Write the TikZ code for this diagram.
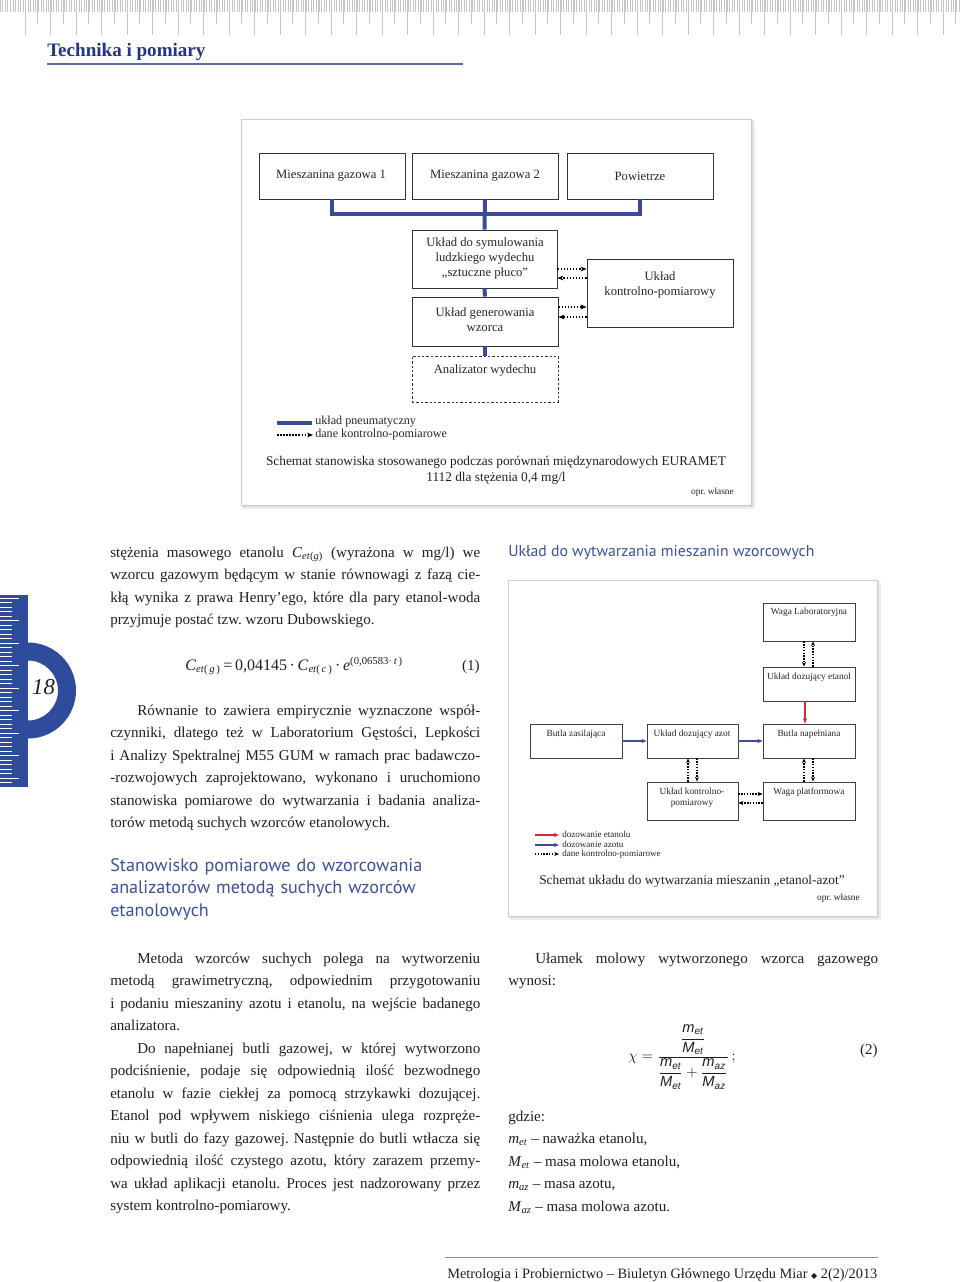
\documentclass[tikz,border=0pt]{standalone}
\usepackage{amsmath}
\usepackage{fontspec}
\setmainfont{Liberation Serif}
\newfontfamily\headsans{PT Sans}
\newfontfamily\eqsans{Liberation Sans}
\newfontfamily\djv{DejaVu Sans}
\usetikzlibrary{arrows.meta,fit}
\frenchspacing
\definecolor{navy}{HTML}{233584}
\definecolor{hdrule}{HTML}{5D6BA3}
\definecolor{tabblue}{HTML}{2F4B9C}
\definecolor{headblue}{HTML}{3D4F9F}
\definecolor{pneublue}{HTML}{3A4A98}
\definecolor{f2blue}{HTML}{3B4F9A}
\definecolor{f2red}{HTML}{D42A34}
\definecolor{textc}{HTML}{231F20}
\definecolor{tickc}{HTML}{C4C4C4}
\newlength\linewd \setlength\linewd{277.5pt}
\newlength\indw \setlength\indw{20.25pt}
\newcommand\jl[1]{\makebox[\linewd][s]{\spaceskip=0pt\xspaceskip=0pt #1}}
\newcommand\jli[1]{\hspace*{\indw}\makebox[\dimexpr\linewd-\indw\relax][s]{\spaceskip=0pt\xspaceskip=0pt #1}}
\newcommand\ms[2]{\mbox{\eqsans\itshape #1}_{\mbox{\eqsans\itshape\fontsize{7.5}{8}\selectfont #2}}}
\tikzset{
  body/.style={anchor=base west, inner sep=0pt, text width=277.5pt, align=justify, text=textc, font=\fontsize{11.3}{16.875}\selectfont},
  headsty/.style={anchor=base west, inner sep=0pt, text width=300pt, align=left, text=headblue, font=\headsans\fontsize{13.6}{16.875}\selectfont},
  f1box/.style={draw=black!80, line width=0.7pt, fill=white, inner sep=0pt},
  f1text/.style={inner sep=0pt, align=center, text=black!85, font=\fontsize{9.5}{11.25}\selectfont},
  f2box/.style={draw=black!75, line width=0.6pt, fill=white, inner sep=0pt},
  f2text/.style={inner sep=0pt, align=center, text=black!85, font=\fontsize{7}{8.25}\selectfont},
  pneu/.style={pneublue, line width=3pt},
  dat/.style={black, line width=1pt, dash pattern=on 1.2pt off 1.1pt, -{Stealth[length=4.5pt,width=3.6pt]}},
  dattwo/.style={black, line width=0.9pt, dash pattern=on 1.1pt off 1pt, -{Stealth[length=3.6pt,width=3pt]}},
  bluearr/.style={f2blue, line width=1pt, -{Stealth[length=4pt,width=3.2pt]}},
  redarr/.style={f2red, line width=1pt, -{Stealth[length=4pt,width=3.2pt]}},
  capt/.style={inner sep=0pt, text=textc, font=\fontsize{10}{12}\selectfont},
  oprsty/.style={inner sep=0pt, anchor=base east, text=textc, font=\fontsize{7}{8}\selectfont},
}
\begin{document}
\begin{tikzpicture}[x=0.75pt,y=-0.75pt]
\useasboundingbox (0,0) rectangle (960,1282);
\fill[white] (0,0) rectangle (960,1282);

% top ruler
\draw[tickc, line width=0.35pt] \foreach \i in {0,...,376} {(\i*2.55,0) -- ++(0,12)};
\draw[tickc, line width=0.45pt] \foreach \i in {0,...,36} {(25+\i*25.5,0) -- ++(0,35)};
\draw[tickc, line width=0.4pt] \foreach \i in {0,...,36} {(37.75+\i*25.5,0) -- ++(0,24)};

% header
\node[anchor=base west, inner sep=0pt, text=navy, font=\fontsize{14.3}{16}\selectfont\bfseries] (hdr) at (47,56) {Technika i pomiary};
\coordinate (hrA) at (47,64);
\coordinate (hrB) at (463,64);
\draw[hdrule, line width=1.5pt] (hrA) -- (hrB);

% page tab
\fill[tabblue] (0,595) rectangle (28,787);
\draw[white, line width=0.5pt] \foreach \j in {0,...,41} {(0,598+\j*4.5) -- ++(12,0)};
\draw[white, line width=0.5pt] \foreach \j in {0,...,8} {(0,598+\j*22.5) -- ++(19,0)};
\begin{scope}
  \clip (28,630) rectangle (95,760);
  \fill[tabblue, even odd rule] (28,690.5) circle[radius=36pt] (28,690.5) circle[radius=22.5pt];
\end{scope}
\node[inner sep=0pt, text=textc, font=\fontsize{17}{20}\selectfont\itshape] (pgnum) at (43.5,687) {18};

% ===== Figure 1 =====
\fill[black!7] (243,121) rectangle (755,509);
\fill[black!14] (242,120) rectangle (753,507);
\draw[black!20, fill=white, line width=0.5pt] (241,119) rectangle (751,505);

\node[f1box, fit={(259,153)(405,199)}] (g1) {};
\node[f1text] (g1t) at (331,176) {Mieszanina gazowa 1};
\node[f1box, fit={(412,153)(558,199)}] (g2) {};
\node[f1text] (g2t) at (485,176) {Mieszanina gazowa 2};
\node[f1box, fit={(567,153)(713,199)}] (g3) {};
\node[f1text] (g3t) at (640,176) {Powietrze};
\node[f1box, fit={(412,230)(557,288)}] (sym) {};
\node[f1text] (symt) at (485,258) {Układ do symulowania\\ludzkiego wydechu\\„sztuczne płuco”};
\node[f1box, fit={(412,297)(558,346)}] (gen) {};
\node[f1text] (gent) at (485,319.5) {Układ generowania\\wzorca};
\node[f1box, dash pattern=on 1.8pt off 1.5pt, fit={(412,356)(558,402)}] (ana) {};
\node[f1text] (anat) at (485,370) {Analizator wydechu};
\node[f1box, fit={(587,259)(733,327)}] (kon) {};
\node[f1text] (kont) at (660,285) {Układ\\kontrolno-pomiarowy};

\coordinate (bus) at (485,214);
\draw[pneu, line join=miter] (g1.south) |- (bus) -| (g3.south);
\draw[pneu] (g2.south) -- (sym.north);
\draw[pneu] (sym.south) -- (gen.north);
\draw[pneu] (gen.south) -- (ana.north);

\draw[dat] (sym.east |- 0,269) -- (kon.west |- 0,269);
\draw[dat] (kon.west |- 0,278) -- (sym.east |- 0,278);
\draw[dat] (gen.east |- 0,307) -- (kon.west |- 0,307);
\draw[dat] (kon.west |- 0,317) -- (gen.east |- 0,317);

% legend 1
\draw[pneublue, line width=3pt] (277,423) -- (312,423);
\draw[dat] (277,435) -- (313,435);
\node[anchor=west, inner sep=0pt, text=black!85, font=\fontsize{9.1}{11}\selectfont] (lg1) at (315,421.5) {układ pneumatyczny};
\node[anchor=west, inner sep=0pt, text=black!85, font=\fontsize{9.1}{11}\selectfont] (lg2) at (315,434.5) {dane kontrolno-pomiarowe};

\node[capt, anchor=base] (cap1a) at (496,465) {Schemat stanowiska stosowanego podczas porównań międzynarodowych EURAMET};
\node[capt, anchor=base] (cap1b) at (496,481) {1112 dla stężenia 0,4 mg/l};
\node[oprsty] (opr1) at (734,494) {opr. własne};

% ===== Figure 2 =====
\fill[black!7] (510,582) rectangle (881,920);
\fill[black!14] (509,581) rectangle (879,918);
\draw[black!20, fill=white, line width=0.5pt] (508,580) rectangle (877,916);

\node[f2box, fit={(763,603)(855,641)}] (wl) {};
\node[f2text] (wlt) at (809,612.5) {Waga Laboratoryjna};
\node[f2box, fit={(763,667)(855,701)}] (et) {};
\node[f2text] (ett) at (809,677) {Układ dozujący etanol};
\node[f2box, fit={(530,724)(622,758)}] (bz) {};
\node[f2text] (bzt) at (576,734) {Butla zasilająca};
\node[f2box, fit={(647,724)(738,758)}] (az) {};
\node[f2text] (azt) at (692,734) {Układ dozujący azot};
\node[f2box, fit={(763,724)(855,758)}] (bn) {};
\node[f2text] (bnt) at (809,734) {Butla napełniana};
\node[f2box, fit={(647,782)(738,820)}] (kp) {};
\node[f2text] (kpt) at (692,798) {Układ kontrolno-\\pomiarowy};
\node[f2box, fit={(763,782)(855,820)}] (wp) {};
\node[f2text] (wpt) at (809,792.5) {Waga platformowa};

\draw[bluearr] (bz.east |- 0,741) -- (az.west |- 0,741);
\draw[bluearr] (az.east |- 0,741) -- (bn.west |- 0,741);
\draw[redarr] (et.south -| 805,0) -- (bn.north -| 805,0);
\draw[dattwo] (wl.south -| 804,0) -- (et.north -| 804,0);
\draw[dattwo] (et.north -| 813,0) -- (wl.south -| 813,0);
\draw[dattwo] (kp.north -| 688,0) -- (az.south -| 688,0);
\draw[dattwo] (az.south -| 697,0) -- (kp.north -| 697,0);
\draw[dattwo] (wp.north -| 804,0) -- (bn.south -| 804,0);
\draw[dattwo] (bn.south -| 813,0) -- (wp.north -| 813,0);
\draw[dattwo] (kp.east |- 0,794) -- (wp.west |- 0,794);
\draw[dattwo] (wp.west |- 0,803) -- (kp.east |- 0,803);

% legend 2
\draw[redarr] (535,835) -- (559,835);
\draw[bluearr] (535,845) -- (559,845);
\draw[dattwo] (535,854) -- (559,854);
\node[anchor=west, inner sep=0pt, text=black!85, font=\fontsize{6.8}{8}\selectfont] (l2a) at (562,834.5) {dozowanie etanolu};
\node[anchor=west, inner sep=0pt, text=black!85, font=\fontsize{6.8}{8}\selectfont] (l2b) at (562,844.5) {dozowanie azotu};
\node[anchor=west, inner sep=0pt, text=black!85, font=\fontsize{6.8}{8}\selectfont] (l2c) at (562,854) {dane kontrolno-pomiarowe};

\node[capt, anchor=base] (cap2) at (692,884) {Schemat układu do wytwarzania mieszanin „etanol-azot”};
\node[oprsty] (opr2) at (860,900) {opr. własne};

% ===== Left column =====
\node[body] (p1) at (110,557) {%
\jl{stężenia masowego etanolu \textit{C}\textsubscript{\textit{et}(\textit{g})} (wyrażona w mg/l) we}\\
\jl{wzorcu gazowym będącym w stanie równowagi z fazą cie-}\\
\jl{kłą wynika z prawa Henry’ego, które dla pary etanol-woda}\\
przyjmuje postać tzw. wzoru Dubowskiego.};

\node[anchor=base west, inner sep=0pt, text=textc, font=\fontsize{12}{14}\selectfont] (eq1) at (185,670) {\textit{C}\textsubscript{\textit{et}(\,\textit{g}\,)}\,=\,0,04145\,·\,\textit{C}\textsubscript{\textit{et}(\,\textit{c}\,)}\,·\,\textit{e}\textsuperscript{(0,06583·\,\textit{t}\,)}};
\node[anchor=base east, inner sep=0pt, text=textc, font=\fontsize{11.3}{14}\selectfont] (eq1n) at (480,670) {(1)};

\node[body] (p2) at (110,715) {%
\jli{Równanie to zawiera empirycznie wyznaczone współ-}\\
\jl{czynniki, dlatego też w Laboratorium Gęstości, Lepkości}\\
\jl{i Analizy Spektralnej M55 GUM w ramach prac badawczo-}\\
\jl{-rozwojowych zaprojektowano, wykonano i uruchomiono}\\
\jl{stanowiska pomiarowe do wytwarzania i badania analiza-}\\
torów metodą suchych wzorców etanolowych.};

\node[headsty] (h1) at (110,871) {Stanowisko pomiarowe do wzorcowania\\analizatorów metodą suchych wzorców\\etanolowych};

\node[body] (p3) at (110,963) {%
\jli{Metoda wzorców suchych polega na wytworzeniu}\\
\jl{metodą grawimetryczną, odpowiednim przygotowaniu}\\
\jl{i podaniu mieszaniny azotu i etanolu, na wejście badanego}\\
analizatora.};

\node[body] (p4) at (110,1053) {%
\jli{Do napełnianej butli gazowej, w której wytworzono}\\
\jl{podciśnienie, podaje się odpowiednią ilość bezwodnego}\\
\jl{etanolu w fazie ciekłej za pomocą strzykawki dozującej.}\\
\jl{Etanol pod wpływem niskiego ciśnienia ulega rozpręże-}\\
\jl{niu w butli do fazy gazowej. Następnie do butli wtłacza się}\\
\jl{odpowiednią ilość czystego azotu, który zarazem przemy-}\\
\jl{wa układ aplikacji etanolu. Proces jest nadzorowany przez}\\
system kontrolno-pomiarowy.};

% ===== Right column =====
\node[anchor=base west, inner sep=0pt, text=headblue, font=\headsans\fontsize{11.8}{15}\selectfont] (t2) at (508,556) {Układ do wytwarzania mieszanin wzorcowych};

\node[body] (p5) at (508,963) {%
\jli{Ułamek molowy wytworzonego wzorca gazowego}\\
wynosi:};

\node[inner sep=0pt, text=textc, font=\fontsize{11}{13}\selectfont] (eq2) at (682,1057) {$\chi=\dfrac{\dfrac{\ms{m}{et}}{\ms{M}{et}}}{\dfrac{\ms{m}{et}}{\ms{M}{et}}+\dfrac{\ms{m}{az}}{\ms{M}{az}}}\,;$};
\node[anchor=base east, inner sep=0pt, text=textc, font=\fontsize{11.3}{14}\selectfont] (eq2n) at (878,1054) {(2)};

\node[body] (p6) at (508,1121) {%
gdzie:\\
\textit{m}\textsubscript{\textit{et}} – naważka etanolu,\\
\textit{M}\textsubscript{\textit{et}} – masa molowa etanolu,\\
\textit{m}\textsubscript{\textit{az}} – masa azotu,\\
\textit{M}\textsubscript{\textit{az}} – masa molowa azotu.};

% footer
\coordinate (ftA) at (445,1257);
\coordinate (ftB) at (878,1257);
\draw[black!45, line width=0.6pt] (ftA) -- (ftB);
\node[anchor=base west, inner sep=0pt, text=textc, font=\fontsize{10.75}{12}\selectfont] (foot) at (447,1278) {Metrologia i Probiernictwo – Biuletyn Głównego Urzędu Miar {\djv\fontsize{6}{6}\selectfont ◆} 2(2)/2013};
\end{tikzpicture}
\end{document}
